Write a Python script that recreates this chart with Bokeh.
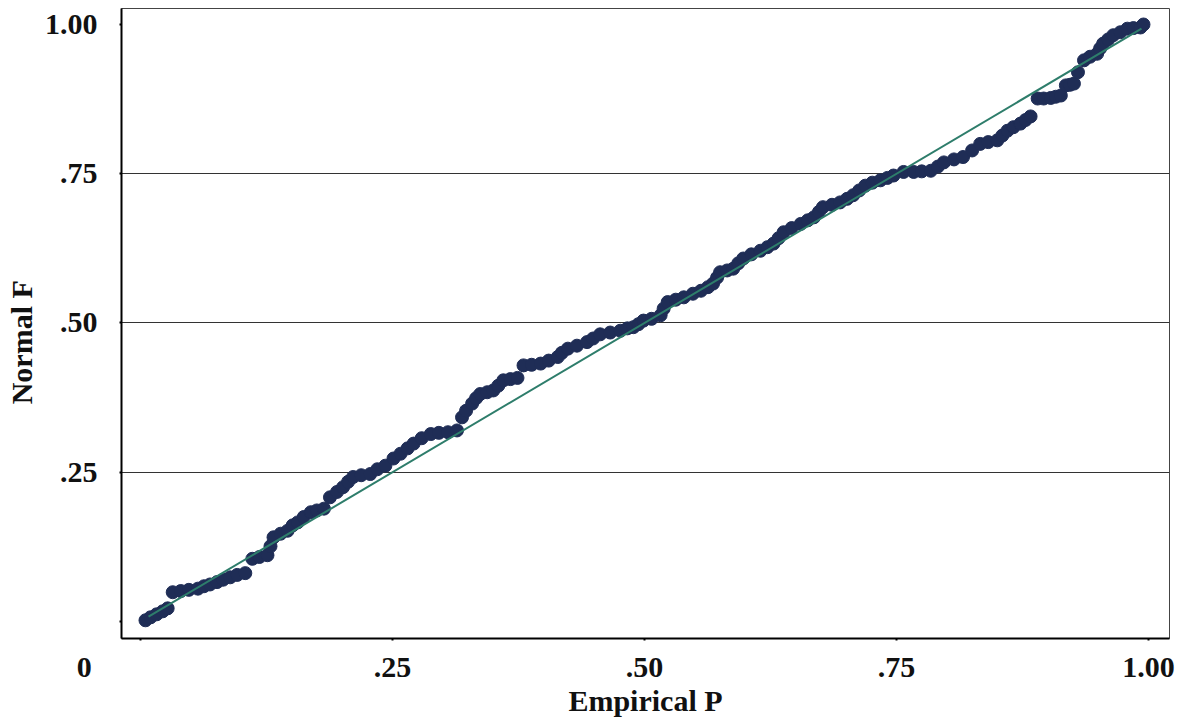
from bokeh.plotting import figure
from bokeh.models import Range1d, FixedTicker
from bokeh.embed import file_html
from bokeh.resources import INLINE

# ---- data (P-P plot) ----
empirical_p = [
    0.005, 0.010, 0.016, 0.022, 0.027,
    0.032, 0.040, 0.048, 0.057, 0.063, 0.069, 0.076, 0.082, 0.089, 0.096, 0.104,
    0.111, 0.118, 0.126, 0.129, 0.132, 0.139, 0.146, 0.151, 0.156, 0.162, 0.169, 0.175, 0.182,
    0.188, 0.195, 0.201, 0.206, 0.211, 0.219, 0.228, 0.235, 0.243, 0.251, 0.258, 0.265, 0.271,
    0.279, 0.288, 0.296, 0.305, 0.314,
    0.319, 0.323, 0.329, 0.333, 0.337, 0.344, 0.350, 0.355, 0.360, 0.367, 0.374,
    0.380, 0.388, 0.397, 0.405, 0.414, 0.418, 0.424, 0.433, 0.443, 0.449, 0.456, 0.466, 0.476,
    0.483, 0.489, 0.494, 0.499, 0.507, 0.516,
    0.519, 0.523, 0.531, 0.539, 0.548, 0.556, 0.563, 0.568, 0.572, 0.575, 0.582, 0.588, 0.593,
    0.598, 0.606, 0.615, 0.622, 0.628, 0.633, 0.638, 0.646, 0.655, 0.662, 0.668, 0.673, 0.677,
    0.686, 0.694, 0.701, 0.707, 0.713, 0.719, 0.726, 0.734, 0.741, 0.747, 0.757, 0.767, 0.775,
    0.784, 0.791, 0.797, 0.807, 0.816, 0.825, 0.833, 0.841, 0.850, 0.855, 0.860, 0.866, 0.873,
    0.878, 0.883,
    0.890, 0.896, 0.903, 0.908, 0.913,
    0.918, 0.922, 0.926,
    0.930, 0.936, 0.942, 0.949, 0.952, 0.955, 0.960, 0.965, 0.972, 0.979, 0.985, 0.992, 0.995,
]
normal_f = [
    0.002, 0.007, 0.012, 0.017, 0.022,
    0.049, 0.051, 0.053, 0.055, 0.059, 0.062, 0.066, 0.070, 0.074, 0.078, 0.081,
    0.105, 0.108, 0.111, 0.126, 0.141, 0.147, 0.152, 0.161, 0.166, 0.175, 0.183, 0.186, 0.189,
    0.208, 0.217, 0.225, 0.234, 0.242, 0.245, 0.247, 0.255, 0.261, 0.273, 0.281, 0.290, 0.298,
    0.307, 0.314, 0.316, 0.317, 0.320,
    0.342, 0.353, 0.365, 0.374, 0.381, 0.384, 0.387, 0.395, 0.404, 0.406, 0.408,
    0.429, 0.430, 0.432, 0.437, 0.443, 0.450, 0.457, 0.462, 0.468, 0.474, 0.481, 0.484, 0.487,
    0.491, 0.493, 0.498, 0.504, 0.507, 0.513,
    0.524, 0.535, 0.539, 0.543, 0.549, 0.554, 0.560, 0.566, 0.576, 0.585, 0.588, 0.591, 0.600,
    0.608, 0.615, 0.621, 0.627, 0.633, 0.642, 0.652, 0.659, 0.666, 0.672, 0.677, 0.686, 0.694,
    0.698, 0.702, 0.708, 0.714, 0.722, 0.730, 0.735, 0.739, 0.743, 0.747, 0.753, 0.753, 0.754,
    0.755, 0.762, 0.769, 0.774, 0.778, 0.789, 0.800, 0.803, 0.806, 0.814, 0.822, 0.828, 0.834,
    0.840, 0.846,
    0.876, 0.876, 0.877, 0.879, 0.881,
    0.898, 0.899, 0.901,
    0.920, 0.940, 0.946, 0.951, 0.960, 0.968, 0.975, 0.982, 0.987, 0.993, 0.994, 0.995, 1.000,
]
reference_line_x = [0.008, 0.993]
reference_line_y = [0.008, 0.993]

tick_values = [0.0, 0.25, 0.5, 0.75, 1.0]
x_tick_labels = ["0", ".25", ".50", ".75", "1.00"]
y_tick_labels = ["", ".25", ".50", ".75", "1.00"]
grid_values = [0.25, 0.5, 0.75]
x_title = "Empirical P"
y_title = "Normal F"

FONT = "Liberation Serif"
FSIZE = "30px"
TXT = "#111111"
NBSP = "\u00a0"

p = figure(
    width=1187, height=719,
    output_backend="svg", toolbar_location=None,
    x_range=Range1d(-0.0188, 1.0208), y_range=Range1d(-0.0285, 1.0268),
    min_border_left=121, min_border_right=18, min_border_top=8, min_border_bottom=81,
    background_fill_color="white", border_fill_color="white",
)

p.outline_line_color = "#444444"
p.outline_line_width = 1

p.xgrid.visible = False
p.ygrid.ticker = FixedTicker(ticks=grid_values)
p.ygrid.grid_line_color = "#333333"
p.ygrid.grid_line_width = 1

for ax in (p.xaxis, p.yaxis):
    ax.ticker = FixedTicker(ticks=tick_values)
    ax.axis_line_color = "black"
    ax.axis_line_width = 2
    ax.major_tick_line_color = "black"
    ax.major_tick_line_width = 2
    ax.major_tick_in = 0
    ax.major_tick_out = 2
    ax.minor_tick_line_color = None
    ax.major_label_text_font = FONT
    ax.major_label_text_font_style = "bold"
    ax.major_label_text_font_size = FSIZE
    ax.major_label_text_color = TXT
    ax.axis_label_text_font = FONT
    ax.axis_label_text_font_style = "bold"
    ax.axis_label_text_font_size = FSIZE
    ax.axis_label_text_color = TXT

# the origin label "0" sits left of the frame corner, on the x tick-label row
x_overrides = {v: t for v, t in zip(tick_values, x_tick_labels)}
x_overrides[0.0] = x_tick_labels[0] + NBSP * 15
p.xaxis.major_label_overrides = x_overrides
p.yaxis.major_label_overrides = {v: t for v, t in zip(tick_values, y_tick_labels)}

p.xaxis.axis_label = x_title
p.yaxis.axis_label = y_title + NBSP * 5   # title sits a little below the frame centre
p.xaxis.major_label_standoff = 9
p.xaxis.axis_label_standoff = -2
p.yaxis.major_label_standoff = 22
p.yaxis.axis_label_standoff = 4

p.scatter(empirical_p, normal_f, marker="circle", size=13,
          fill_color="#1f2d56", line_color="#1f2d56")
p.line(reference_line_x, reference_line_y, line_color="#2e7d6b", line_width=2)

open("out.html", "w").write(file_html(p, INLINE))
